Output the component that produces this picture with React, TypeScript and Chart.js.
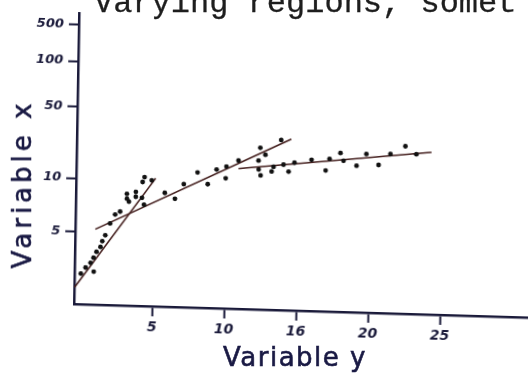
import React, { useEffect, useRef } from 'react';
import { Chart, registerables, LinearScale } from 'chart.js';

Chart.register(...registerables);

// Readings: horizontal = "Variable y", vertical = "Variable x"
const earlyY = [0.02, 0.34, 0.68, 0.91, 0.88, 1.08, 1.35, 1.47, 1.67, 1.99, 2.33, 2.67, 3.12, 3.27, 3.13, 3.74, 3.74, 4.17, 4.32, 4.33, 4.83, 4.2];
const earlyX = [2.88, 3.12, 3.33, 2.97, 3.56, 3.85, 4.11, 4.44, 4.8, 5.61, 6.31, 6.57, 8.3, 7.5, 7.79, 8.55, 8.02, 7.93, 7.25, 10.7, 10.0, 9.75];

const midY = [5.75, 6.46, 7.06, 8.0, 8.72, 9.32, 9.96, 10.0, 10.83, 12.33, 12.69, 13.77];
const midX = [8.53, 7.93, 9.63, 12.3, 9.72, 13.3, 11.0, 14.3, 16.5, 22.3, 19.1, 26.9];

const lateY = [12.22, 12.24, 12.38, 13.14, 13.27, 13.96, 14.32, 14.72, 15.9, 16.89, 17.15, 17.9, 18.12, 19.03, 19.7, 20.56, 21.37, 22.4, 23.17];
const lateX = [16.7, 13.7, 12.0, 13.2, 14.7, 15.5, 13.3, 16.3, 17.6, 14.0, 18.2, 20.9, 17.6, 15.9, 20.8, 16.4, 21.1, 25.4, 21.4];

// Fitted straight segments, two end points each
const fitEarlyY = [-0.4, 5.1];
const fitEarlyX = [2.4, 10.5];
const fitMidY = [0.97, 14.47];
const fitMidX = [5.17, 27.6];
const fitLateY = [10.84, 24.22];
const fitLateX = [13.8, 22.6];

const xTickValues = [5, 10, 15, 20, 25];
const xTickLabels = ['5', '10', '16', '20', '25'];
const yTickValues = [5, 10, 50, 100, 500];
const yTickLabels = ['5', '10', '50', '100', '500'];

// Hand-ruled vertical axis: log spacing between marked values,
// each marked value sitting at its own fraction of the axis height.
const Y_RULER: [number, number][] = [
  [1.93, 0],
  [5, 74 / 296],
  [10, 128 / 296],
  [50, 201 / 296],
  [100, 247 / 296],
  [500, 284 / 296],
  [841, 1],
];

class RuledScale extends LinearScale {
  static id = 'ruled';
  static defaults = LinearScale.defaults;

  getPixelForValue(value: number) {
    const a = Y_RULER;
    const lv = Math.log10(Math.max(value, 1e-9));
    let i = 0;
    while (i < a.length - 2 && lv > Math.log10(a[i + 1][0])) i++;
    const l0 = Math.log10(a[i][0]);
    const l1 = Math.log10(a[i + 1][0]);
    const t = (lv - l0) / (l1 - l0);
    const dec = a[i][1] + t * (a[i + 1][1] - a[i][1]);
    return this.getPixelForDecimal(dec);
  }

  getValueForPixel(pixel: number) {
    const a = Y_RULER;
    const dec = this.getDecimalForPixel(pixel);
    let i = 0;
    while (i < a.length - 2 && dec > a[i + 1][1]) i++;
    const t = (dec - a[i][1]) / (a[i + 1][1] - a[i][1]);
    const l0 = Math.log10(a[i][0]);
    const l1 = Math.log10(a[i + 1][0]);
    return Math.pow(10, l0 + t * (l1 - l0));
  }
}
Chart.register(RuledScale as any);

const INK = '#1a1a3a';
const TITLE_INK = '#1a1a44';
const DOT = '#111111';
const FIT = '#45201f';

// The hand-drawn frame leans a little: the horizontal axis droops ~1.7°,
// the vertical axis leans ~1.0°.
const SLANT = 'matrix(0.99956, 0.02967, -0.01745, 0.99985, 0, 0)';

const pts = (hs: number[], vs: number[]) => hs.map((h, i) => ({ x: h, y: vs[i] }));

export default function App() {
  const ref = useRef<HTMLCanvasElement>(null);

  useEffect(() => {
    const dotSet = (data: { x: number; y: number }[]) => ({
      data,
      showLine: false,
      pointRadius: 2.4,
      pointBackgroundColor: DOT,
      pointBorderWidth: 0,
      order: 1,
    });
    const fitSet = (data: { x: number; y: number }[]) => ({
      data,
      showLine: true,
      borderColor: FIT,
      borderWidth: 1.6,
      pointRadius: 0,
      order: 2,
    });

    const chart = new Chart(ref.current as HTMLCanvasElement, {
      type: 'scatter',
      data: {
        datasets: [
          fitSet(pts(fitEarlyY, fitEarlyX)),
          fitSet(pts(fitMidY, fitMidX)),
          fitSet(pts(fitLateY, fitLateX)),
          dotSet(pts(earlyY, earlyX)),
          dotSet(pts(midY, midX)),
          dotSet(pts(lateY, lateX)),
        ] as any,
      },
      options: {
        responsive: false,
        devicePixelRatio: 1,
        animation: false,
        events: [],
        layout: { padding: { top: 8, right: 4, left: 0, bottom: 0 } },
        plugins: { legend: { display: false }, tooltip: { enabled: false } },
        scales: {
          x: {
            type: 'linear',
            min: -0.42,
            max: 31.66,
            afterBuildTicks: (s: any) => {
              s.ticks = xTickValues.map((v) => ({ value: v }));
            },
            afterFit: (s: any) => {
              s.height = 71;
            },
            ticks: {
              autoSkip: false,
              maxRotation: 0,
              padding: 3,
              color: INK,
              font: { family: '"DejaVu Sans"', size: 14, weight: 'bold', style: 'italic' },
              callback: (v: any) => xTickLabels[xTickValues.indexOf(Number(v))],
            },
            grid: {
              drawOnChartArea: false,
              drawTicks: true,
              tickLength: 10,
              tickColor: INK,
              tickWidth: 2,
            },
            border: { display: true, color: INK, width: 2.5 },
          },
          y: {
            type: 'ruled' as any,
            min: 1.93,
            max: 841,
            afterBuildTicks: (s: any) => {
              s.ticks = yTickValues.map((v) => ({ value: v }));
            },
            afterFit: (s: any) => {
              s.width = 74;
            },
            ticks: {
              autoSkip: false,
              padding: 5,
              color: INK,
              font: { family: '"DejaVu Sans"', size: 13, weight: 'bold', style: 'italic' },
              callback: (v: any) => yTickLabels[yTickValues.indexOf(Number(v))],
            },
            grid: {
              drawOnChartArea: false,
              drawTicks: true,
              tickLength: 10,
              tickColor: INK,
              tickWidth: 2,
            },
            border: { display: true, color: INK, width: 2.5 },
          },
        } as any,
      },
    });
    return () => chart.destroy();
  }, []);

  const titleStyle: React.CSSProperties = {
    position: 'absolute',
    fontFamily: '"DejaVu Sans", sans-serif',
    fontSize: 26,
    lineHeight: '26px',
    color: TITLE_INK,
    WebkitTextStroke: `0.6px ${TITLE_INK}`,
    whiteSpace: 'nowrap',
  };

  return (
    <div
      style={{
        position: 'fixed',
        left: 0,
        top: 0,
        width: 528,
        height: 375,
        overflow: 'hidden',
        background: '#ffffff',
      }}
    >
      <div
        style={{
          position: 'absolute',
          left: 0,
          top: 0,
          width: 540,
          height: 375,
          transform: SLANT,
          transformOrigin: '74px 304px',
        }}
      >
        <canvas ref={ref} width={540} height={375} style={{ display: 'block', width: 540, height: 375 }} />
      </div>
      <div
        style={{
          position: 'absolute',
          left: 94,
          top: -12.5,
          fontFamily: '"Liberation Mono", monospace',
          fontSize: 32,
          lineHeight: '32px',
          color: '#1e1e1e',
          WebkitTextStroke: '0.3px #1e1e1e',
          whiteSpace: 'nowrap',
        }}
      >
        Varying regions, somet
      </div>
      <div
        style={{
          ...titleStyle,
          left: 22,
          top: 184,
          transform: 'translate(-50%, -50%) rotate(-90deg)',
          letterSpacing: 4,
        }}
      >
        Variable x
      </div>
      <div
        style={{
          ...titleStyle,
          left: 295,
          top: 357,
          transform: 'translate(-50%, -50%)',
          letterSpacing: 1.5,
        }}
      >
        Variable y
      </div>
    </div>
  );
}
